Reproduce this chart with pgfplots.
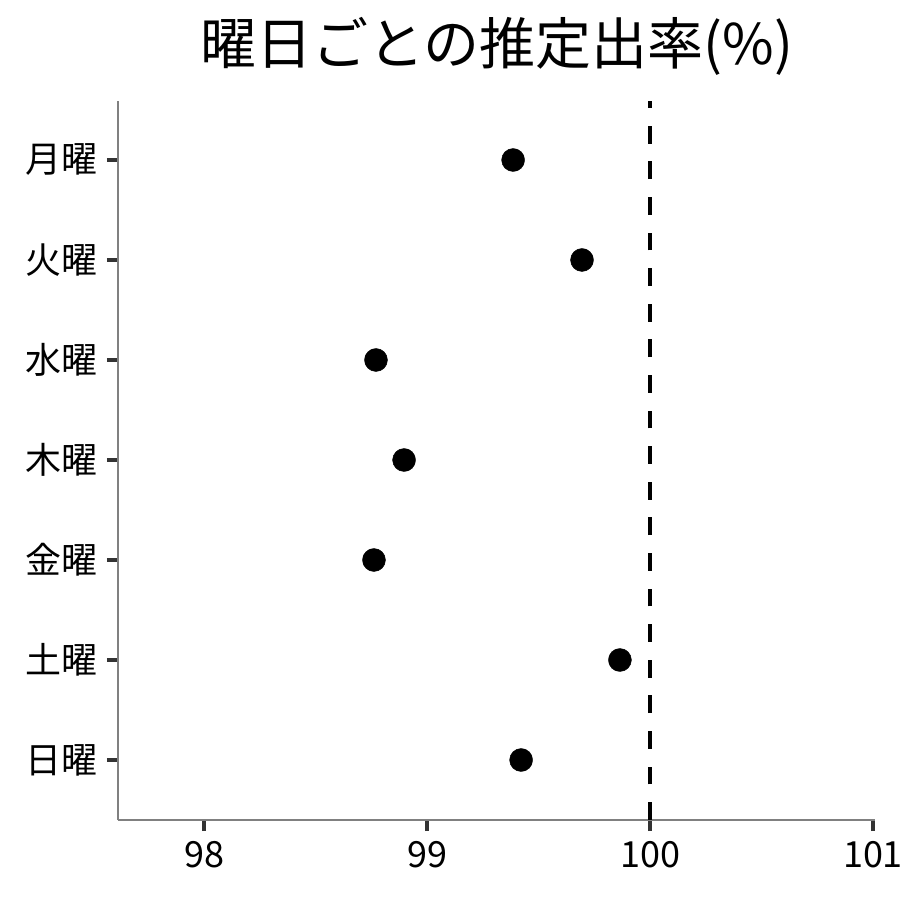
\documentclass[border=0pt]{standalone}
\usepackage{fontspec}
\setmainfont{Noto Sans CJK JP}
\usepackage{pgfplots}
\pgfplotsset{compat=1.18}
\definecolor{axisgray}{RGB}{128,128,128}
\definecolor{tickgray}{RGB}{51,51,51}

\begin{document}
\begin{tikzpicture}
  \useasboundingbox (-118pt,-80pt) rectangle (782pt,820pt);
  \begin{axis}[
      at={(0pt,0pt)}, anchor=south west,
      scale only axis,
      width=757pt, height=719pt,
      xmin=97.614, xmax=101.009,
      ymin=-0.6, ymax=6.59,
      xtick={98,99,100,101},
      ytick={0,1,2,3,4,5,6},
      yticklabels={日曜,土曜,金曜,木曜,水曜,火曜,月曜},
      axis x line*=bottom, axis y line*=left,
      axis line style={axisgray, line width=1.1pt, -},
      tick align=outside,
      major tick length=11pt,
      tick style={tickgray, line width=3.2pt},
      ticklabel style={font=\fontsize{36}{40}\selectfont, black},
      yticklabel style={xshift=-6pt},
      xticklabel style={yshift=-7pt},
      /pgf/number format/assume math mode=true,
    ]
    % reference line at 100%
    \addplot[black, line width=4pt, dash pattern=on 17.8pt off 17.8pt]
      coordinates {(100,-0.6) (100,6.59)};

    % estimates: Mon (6) ... Sun (0)
    \addplot[only marks, mark=*, mark size=11.5pt, black]
      coordinates {
        (99.386,6) (99.695,5) (98.771,4) (98.897,3)
        (98.762,2) (99.865,1) (99.422,0)
      };
  \end{axis}
  \node[anchor=base, font=\fontsize{56}{60}\selectfont] at (378.5pt,755pt)
    {曜日ごとの推定出率(\%)};
\end{tikzpicture}
\end{document}
